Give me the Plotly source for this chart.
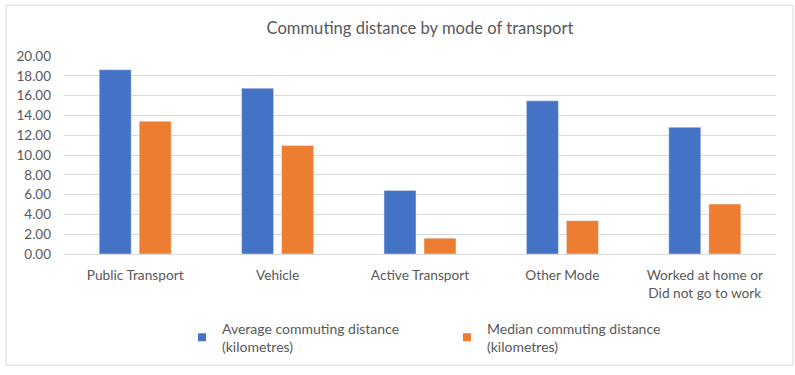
import plotly.graph_objects as go

categories = ["Public Transport", "Vehicle", "Active Transport", "Other Mode",
              "Worked at home or<br>Did not go to work"]
average_km = [18.62, 16.75, 6.42, 15.47, 12.80]
median_km = [13.40, 10.95, 1.60, 3.37, 5.04]
series_names = ["Average commuting distance<br>(kilometres)",
                "Median commuting distance<br>(kilometres)"]
series_colors = ["#4472C4", "#ED7D31"]
y_ticks = [0, 2, 4, 6, 8, 10, 12, 14, 16, 18, 20]

W, H = 795, 375
L, R, T, B = 64, 19, 56, 116
pw, ph = W - L - R, H - T - B

def px_x(p):
    return (p - L) / pw

def px_y(p):
    return (H - B - p) / ph

font = "Lato, 'Open Sans', sans-serif"
grey = "#595959"

fig = go.Figure()
for vals, name, col in zip([average_km, median_km], series_names, series_colors):
    fig.add_trace(go.Bar(x=categories, y=vals, name=name, marker_color=col,
                         showlegend=False))
# legend entries with small square symbols
for name, col in zip(series_names, series_colors):
    fig.add_trace(go.Scatter(x=[None], y=[None], mode="markers", name=name,
                             marker=dict(symbol="square", size=8, color=col),
                             showlegend=True))

fig.update_layout(
    width=W, height=H,
    margin=dict(l=L, r=R, t=T, b=B, pad=0),
    paper_bgcolor="white", plot_bgcolor="white",
    font=dict(family=font, color=grey, size=14),
    title=dict(text="Commuting distance by mode of transport",
               x=0.5, xanchor="center", xref="paper",
               yref="container", y=1 - 28 / H, yanchor="middle",
               font=dict(size=16.6, color=grey, family=font)),
    barmode="group", bargap=0.438, bargroupgap=0.2,
    showlegend=True,
    legend=dict(orientation="h", x=px_x(182), xanchor="left", y=px_y(319),
                yanchor="top", font=dict(size=14, color=grey),
                entrywidth=220, traceorder="normal",
                itemclick=False, itemdoubleclick=False),
    xaxis=dict(showgrid=False, showline=True, linecolor="#d9d9d9",
               linewidth=1, ticks="", automargin=False,
               ticklabelstandoff=9,
               tickfont=dict(size=13.7, color=grey)),
    yaxis=dict(range=[0, 20], tickvals=y_ticks,
               ticktext=[f"{v:.2f}" for v in y_ticks],
               showgrid=True, gridcolor="#d9d9d9", gridwidth=1,
               zeroline=False, showline=False, ticks="",
               automargin=False, ticklabelstandoff=12,
               tickfont=dict(size=13.5, color=grey)),
    shapes=[dict(type="rect", xref="paper", yref="paper",
                 x0=px_x(6), x1=px_x(793), y0=px_y(373), y1=px_y(4),
                 line=dict(color="#d9d9d9", width=1), layer="below")],
)

fig.write_html("out.html",
               config={"displayModeBar": False},
               post_script="document.body.style.margin='0';")
